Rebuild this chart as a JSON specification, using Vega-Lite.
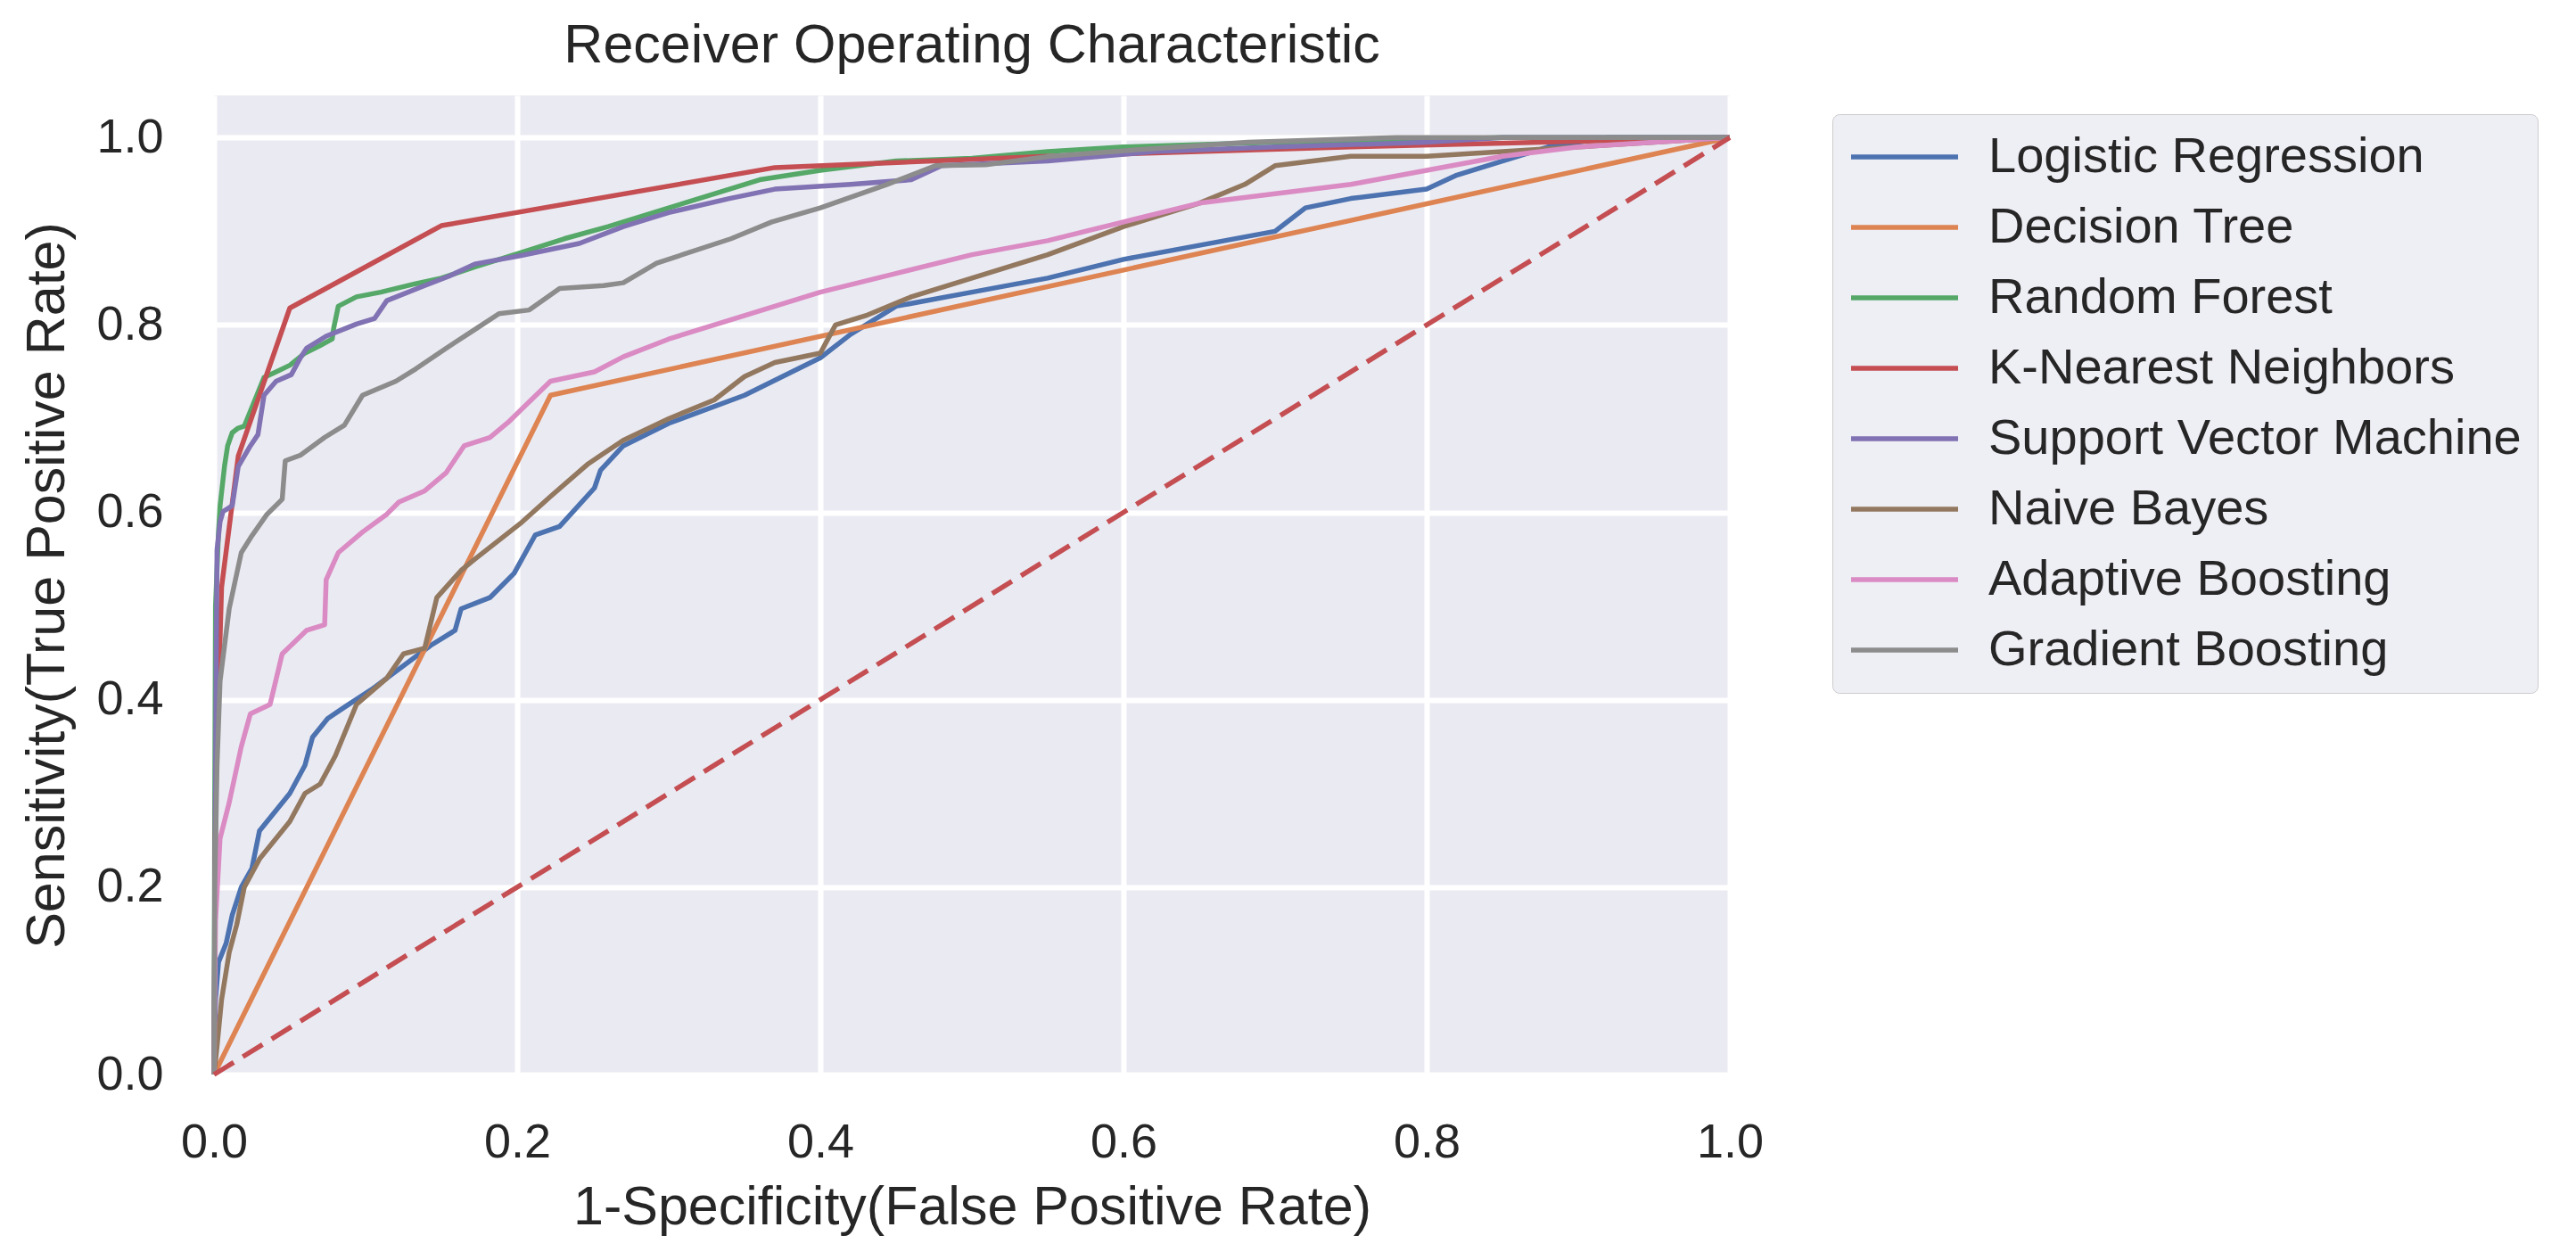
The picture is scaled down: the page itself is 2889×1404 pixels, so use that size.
{
  "$schema": "https://vega.github.io/schema/vega-lite/v6.json",
  "autosize": {"type": "none"},
  "padding": {"left": 240, "top": 107, "right": 949, "bottom": 199},
  "width": 1700,
  "height": 1098,
  "background": "white",
  "title": {"text": "Receiver Operating Characteristic", "fontSize": 61, "font": "Liberation Sans", "fontWeight": "normal", "color": "#262626", "offset": 24},
  "config": {
    "view": {"fill": "#EAEAF2", "stroke": null},
    "axis": {"domain": false, "ticks": false, "gridColor": "#FFFFFF", "gridWidth": 6, "gridOpacity": 1, "labelFont": "Liberation Sans", "labelFontSize": 54, "labelColor": "#262626", "titleFont": "Liberation Sans", "titleFontSize": 61, "titleFontWeight": "normal", "titleColor": "#262626", "labelFlush": false, "labelOverlap": false}
  },
  "encoding": {
    "x": {"field": "x", "type": "quantitative", "scale": {"domain": [0, 1], "nice": false, "zero": false}, "axis": {"values": [0, 0.2, 0.4, 0.6, 0.8, 1.0], "format": ".1f", "title": "1-Specificity(False Positive Rate)", "labelPadding": 49, "titlePadding": 16}},
    "y": {"field": "y", "type": "quantitative", "scale": {"domain": [0, 1.045], "nice": false, "zero": false}, "axis": {"values": [0, 0.2, 0.4, 0.6, 0.8, 1.0], "format": ".1f", "title": "Sensitivity(True Positive Rate)", "labelPadding": 57, "titlePadding": 23}}
  },
  "layer": [
    {
      "data": {"values": [
        {"m": "Logistic Regression", "x": 0, "y": 0}, {"m": "Logistic Regression", "x": 0.001, "y": 0.08}, {"m": "Logistic Regression", "x": 0.003, "y": 0.12}, {"m": "Logistic Regression", "x": 0.008, "y": 0.14}, {"m": "Logistic Regression", "x": 0.012, "y": 0.17}, {"m": "Logistic Regression", "x": 0.018, "y": 0.2}, {"m": "Logistic Regression", "x": 0.025, "y": 0.22}, {"m": "Logistic Regression", "x": 0.03, "y": 0.26}, {"m": "Logistic Regression", "x": 0.04, "y": 0.28}, {"m": "Logistic Regression", "x": 0.05, "y": 0.3}, {"m": "Logistic Regression", "x": 0.06, "y": 0.33}, {"m": "Logistic Regression", "x": 0.065, "y": 0.36}, {"m": "Logistic Regression", "x": 0.075, "y": 0.38}, {"m": "Logistic Regression", "x": 0.086, "y": 0.392}, {"m": "Logistic Regression", "x": 0.104, "y": 0.411}, {"m": "Logistic Regression", "x": 0.143, "y": 0.458}, {"m": "Logistic Regression", "x": 0.159, "y": 0.474}, {"m": "Logistic Regression", "x": 0.163, "y": 0.497}, {"m": "Logistic Regression", "x": 0.182, "y": 0.509}, {"m": "Logistic Regression", "x": 0.198, "y": 0.535}, {"m": "Logistic Regression", "x": 0.212, "y": 0.576}, {"m": "Logistic Regression", "x": 0.228, "y": 0.585}, {"m": "Logistic Regression", "x": 0.251, "y": 0.626}, {"m": "Logistic Regression", "x": 0.255, "y": 0.645}, {"m": "Logistic Regression", "x": 0.27, "y": 0.671}, {"m": "Logistic Regression", "x": 0.3, "y": 0.695}, {"m": "Logistic Regression", "x": 0.35, "y": 0.725}, {"m": "Logistic Regression", "x": 0.4, "y": 0.765}, {"m": "Logistic Regression", "x": 0.42, "y": 0.79}, {"m": "Logistic Regression", "x": 0.45, "y": 0.82}, {"m": "Logistic Regression", "x": 0.5, "y": 0.835}, {"m": "Logistic Regression", "x": 0.55, "y": 0.85}, {"m": "Logistic Regression", "x": 0.6, "y": 0.87}, {"m": "Logistic Regression", "x": 0.65, "y": 0.885}, {"m": "Logistic Regression", "x": 0.7, "y": 0.9}, {"m": "Logistic Regression", "x": 0.72, "y": 0.925}, {"m": "Logistic Regression", "x": 0.75, "y": 0.935}, {"m": "Logistic Regression", "x": 0.8, "y": 0.945}, {"m": "Logistic Regression", "x": 0.82, "y": 0.96}, {"m": "Logistic Regression", "x": 0.85, "y": 0.975}, {"m": "Logistic Regression", "x": 0.88, "y": 0.99}, {"m": "Logistic Regression", "x": 0.92, "y": 1}, {"m": "Logistic Regression", "x": 1, "y": 1},
        {"m": "Decision Tree", "x": 0, "y": 0}, {"m": "Decision Tree", "x": 0.222, "y": 0.725}, {"m": "Decision Tree", "x": 1, "y": 1},
        {"m": "Random Forest", "x": 0, "y": 0}, {"m": "Random Forest", "x": 0.0005, "y": 0.3}, {"m": "Random Forest", "x": 0.001, "y": 0.5}, {"m": "Random Forest", "x": 0.003, "y": 0.58}, {"m": "Random Forest", "x": 0.004, "y": 0.607}, {"m": "Random Forest", "x": 0.007, "y": 0.65}, {"m": "Random Forest", "x": 0.009, "y": 0.671}, {"m": "Random Forest", "x": 0.012, "y": 0.685}, {"m": "Random Forest", "x": 0.016, "y": 0.69}, {"m": "Random Forest", "x": 0.02, "y": 0.692}, {"m": "Random Forest", "x": 0.027, "y": 0.72}, {"m": "Random Forest", "x": 0.033, "y": 0.744}, {"m": "Random Forest", "x": 0.041, "y": 0.75}, {"m": "Random Forest", "x": 0.05, "y": 0.757}, {"m": "Random Forest", "x": 0.06, "y": 0.77}, {"m": "Random Forest", "x": 0.07, "y": 0.778}, {"m": "Random Forest", "x": 0.078, "y": 0.785}, {"m": "Random Forest", "x": 0.079, "y": 0.797}, {"m": "Random Forest", "x": 0.082, "y": 0.82}, {"m": "Random Forest", "x": 0.094, "y": 0.83}, {"m": "Random Forest", "x": 0.11, "y": 0.835}, {"m": "Random Forest", "x": 0.133, "y": 0.844}, {"m": "Random Forest", "x": 0.15, "y": 0.85}, {"m": "Random Forest", "x": 0.172, "y": 0.862}, {"m": "Random Forest", "x": 0.2, "y": 0.876}, {"m": "Random Forest", "x": 0.231, "y": 0.892}, {"m": "Random Forest", "x": 0.26, "y": 0.905}, {"m": "Random Forest", "x": 0.3, "y": 0.925}, {"m": "Random Forest", "x": 0.33, "y": 0.94}, {"m": "Random Forest", "x": 0.36, "y": 0.955}, {"m": "Random Forest", "x": 0.4, "y": 0.965}, {"m": "Random Forest", "x": 0.45, "y": 0.975}, {"m": "Random Forest", "x": 0.5, "y": 0.978}, {"m": "Random Forest", "x": 0.55, "y": 0.985}, {"m": "Random Forest", "x": 0.6, "y": 0.99}, {"m": "Random Forest", "x": 0.7, "y": 0.995}, {"m": "Random Forest", "x": 0.8, "y": 0.998}, {"m": "Random Forest", "x": 0.85, "y": 1}, {"m": "Random Forest", "x": 1, "y": 1},
        {"m": "K-Nearest Neighbors", "x": 0, "y": 0}, {"m": "K-Nearest Neighbors", "x": 0.001, "y": 0.3}, {"m": "K-Nearest Neighbors", "x": 0.005, "y": 0.52}, {"m": "K-Nearest Neighbors", "x": 0.016, "y": 0.66}, {"m": "K-Nearest Neighbors", "x": 0.05, "y": 0.818}, {"m": "K-Nearest Neighbors", "x": 0.15, "y": 0.906}, {"m": "K-Nearest Neighbors", "x": 0.37, "y": 0.968}, {"m": "K-Nearest Neighbors", "x": 0.55, "y": 0.98}, {"m": "K-Nearest Neighbors", "x": 0.75, "y": 0.99}, {"m": "K-Nearest Neighbors", "x": 1, "y": 1},
        {"m": "Support Vector Machine", "x": 0, "y": 0}, {"m": "Support Vector Machine", "x": 0.0005, "y": 0.15}, {"m": "Support Vector Machine", "x": 0.001, "y": 0.3}, {"m": "Support Vector Machine", "x": 0.0015, "y": 0.45}, {"m": "Support Vector Machine", "x": 0.002, "y": 0.56}, {"m": "Support Vector Machine", "x": 0.004, "y": 0.59}, {"m": "Support Vector Machine", "x": 0.006, "y": 0.601}, {"m": "Support Vector Machine", "x": 0.012, "y": 0.607}, {"m": "Support Vector Machine", "x": 0.016, "y": 0.649}, {"m": "Support Vector Machine", "x": 0.024, "y": 0.671}, {"m": "Support Vector Machine", "x": 0.029, "y": 0.683}, {"m": "Support Vector Machine", "x": 0.033, "y": 0.725}, {"m": "Support Vector Machine", "x": 0.041, "y": 0.74}, {"m": "Support Vector Machine", "x": 0.051, "y": 0.747}, {"m": "Support Vector Machine", "x": 0.057, "y": 0.765}, {"m": "Support Vector Machine", "x": 0.061, "y": 0.775}, {"m": "Support Vector Machine", "x": 0.074, "y": 0.788}, {"m": "Support Vector Machine", "x": 0.094, "y": 0.801}, {"m": "Support Vector Machine", "x": 0.106, "y": 0.807}, {"m": "Support Vector Machine", "x": 0.114, "y": 0.826}, {"m": "Support Vector Machine", "x": 0.139, "y": 0.842}, {"m": "Support Vector Machine", "x": 0.155, "y": 0.852}, {"m": "Support Vector Machine", "x": 0.172, "y": 0.865}, {"m": "Support Vector Machine", "x": 0.202, "y": 0.874}, {"m": "Support Vector Machine", "x": 0.241, "y": 0.887}, {"m": "Support Vector Machine", "x": 0.27, "y": 0.905}, {"m": "Support Vector Machine", "x": 0.3, "y": 0.92}, {"m": "Support Vector Machine", "x": 0.34, "y": 0.935}, {"m": "Support Vector Machine", "x": 0.37, "y": 0.945}, {"m": "Support Vector Machine", "x": 0.42, "y": 0.95}, {"m": "Support Vector Machine", "x": 0.46, "y": 0.955}, {"m": "Support Vector Machine", "x": 0.48, "y": 0.97}, {"m": "Support Vector Machine", "x": 0.55, "y": 0.975}, {"m": "Support Vector Machine", "x": 0.62, "y": 0.985}, {"m": "Support Vector Machine", "x": 0.7, "y": 0.99}, {"m": "Support Vector Machine", "x": 0.8, "y": 0.995}, {"m": "Support Vector Machine", "x": 0.85, "y": 1}, {"m": "Support Vector Machine", "x": 1, "y": 1},
        {"m": "Naive Bayes", "x": 0, "y": 0}, {"m": "Naive Bayes", "x": 0.002, "y": 0.03}, {"m": "Naive Bayes", "x": 0.005, "y": 0.08}, {"m": "Naive Bayes", "x": 0.01, "y": 0.13}, {"m": "Naive Bayes", "x": 0.015, "y": 0.16}, {"m": "Naive Bayes", "x": 0.02, "y": 0.2}, {"m": "Naive Bayes", "x": 0.03, "y": 0.23}, {"m": "Naive Bayes", "x": 0.04, "y": 0.25}, {"m": "Naive Bayes", "x": 0.05, "y": 0.27}, {"m": "Naive Bayes", "x": 0.06, "y": 0.3}, {"m": "Naive Bayes", "x": 0.07, "y": 0.31}, {"m": "Naive Bayes", "x": 0.08, "y": 0.34}, {"m": "Naive Bayes", "x": 0.094, "y": 0.395}, {"m": "Naive Bayes", "x": 0.114, "y": 0.423}, {"m": "Naive Bayes", "x": 0.125, "y": 0.449}, {"m": "Naive Bayes", "x": 0.139, "y": 0.455}, {"m": "Naive Bayes", "x": 0.147, "y": 0.509}, {"m": "Naive Bayes", "x": 0.163, "y": 0.538}, {"m": "Naive Bayes", "x": 0.172, "y": 0.55}, {"m": "Naive Bayes", "x": 0.202, "y": 0.588}, {"m": "Naive Bayes", "x": 0.222, "y": 0.617}, {"m": "Naive Bayes", "x": 0.247, "y": 0.652}, {"m": "Naive Bayes", "x": 0.27, "y": 0.677}, {"m": "Naive Bayes", "x": 0.3, "y": 0.7}, {"m": "Naive Bayes", "x": 0.33, "y": 0.72}, {"m": "Naive Bayes", "x": 0.35, "y": 0.745}, {"m": "Naive Bayes", "x": 0.37, "y": 0.76}, {"m": "Naive Bayes", "x": 0.4, "y": 0.77}, {"m": "Naive Bayes", "x": 0.41, "y": 0.8}, {"m": "Naive Bayes", "x": 0.43, "y": 0.81}, {"m": "Naive Bayes", "x": 0.46, "y": 0.83}, {"m": "Naive Bayes", "x": 0.5, "y": 0.85}, {"m": "Naive Bayes", "x": 0.55, "y": 0.875}, {"m": "Naive Bayes", "x": 0.6, "y": 0.905}, {"m": "Naive Bayes", "x": 0.65, "y": 0.93}, {"m": "Naive Bayes", "x": 0.68, "y": 0.95}, {"m": "Naive Bayes", "x": 0.7, "y": 0.97}, {"m": "Naive Bayes", "x": 0.75, "y": 0.98}, {"m": "Naive Bayes", "x": 0.8, "y": 0.98}, {"m": "Naive Bayes", "x": 0.85, "y": 0.985}, {"m": "Naive Bayes", "x": 0.9, "y": 0.99}, {"m": "Naive Bayes", "x": 0.95, "y": 0.995}, {"m": "Naive Bayes", "x": 1, "y": 1},
        {"m": "Adaptive Boosting", "x": 0, "y": 0}, {"m": "Adaptive Boosting", "x": 0.001, "y": 0.164}, {"m": "Adaptive Boosting", "x": 0.004, "y": 0.252}, {"m": "Adaptive Boosting", "x": 0.01, "y": 0.29}, {"m": "Adaptive Boosting", "x": 0.018, "y": 0.35}, {"m": "Adaptive Boosting", "x": 0.024, "y": 0.385}, {"m": "Adaptive Boosting", "x": 0.037, "y": 0.395}, {"m": "Adaptive Boosting", "x": 0.045, "y": 0.449}, {"m": "Adaptive Boosting", "x": 0.061, "y": 0.474}, {"m": "Adaptive Boosting", "x": 0.073, "y": 0.48}, {"m": "Adaptive Boosting", "x": 0.074, "y": 0.528}, {"m": "Adaptive Boosting", "x": 0.082, "y": 0.557}, {"m": "Adaptive Boosting", "x": 0.098, "y": 0.579}, {"m": "Adaptive Boosting", "x": 0.114, "y": 0.598}, {"m": "Adaptive Boosting", "x": 0.122, "y": 0.611}, {"m": "Adaptive Boosting", "x": 0.139, "y": 0.623}, {"m": "Adaptive Boosting", "x": 0.153, "y": 0.642}, {"m": "Adaptive Boosting", "x": 0.165, "y": 0.671}, {"m": "Adaptive Boosting", "x": 0.182, "y": 0.68}, {"m": "Adaptive Boosting", "x": 0.194, "y": 0.696}, {"m": "Adaptive Boosting", "x": 0.208, "y": 0.718}, {"m": "Adaptive Boosting", "x": 0.222, "y": 0.74}, {"m": "Adaptive Boosting", "x": 0.251, "y": 0.75}, {"m": "Adaptive Boosting", "x": 0.27, "y": 0.766}, {"m": "Adaptive Boosting", "x": 0.3, "y": 0.785}, {"m": "Adaptive Boosting", "x": 0.35, "y": 0.81}, {"m": "Adaptive Boosting", "x": 0.4, "y": 0.835}, {"m": "Adaptive Boosting", "x": 0.45, "y": 0.855}, {"m": "Adaptive Boosting", "x": 0.5, "y": 0.875}, {"m": "Adaptive Boosting", "x": 0.55, "y": 0.89}, {"m": "Adaptive Boosting", "x": 0.6, "y": 0.91}, {"m": "Adaptive Boosting", "x": 0.65, "y": 0.93}, {"m": "Adaptive Boosting", "x": 0.7, "y": 0.94}, {"m": "Adaptive Boosting", "x": 0.75, "y": 0.95}, {"m": "Adaptive Boosting", "x": 0.8, "y": 0.965}, {"m": "Adaptive Boosting", "x": 0.85, "y": 0.98}, {"m": "Adaptive Boosting", "x": 0.9, "y": 0.99}, {"m": "Adaptive Boosting", "x": 1, "y": 1},
        {"m": "Gradient Boosting", "x": 0, "y": 0}, {"m": "Gradient Boosting", "x": 0.0005, "y": 0.2}, {"m": "Gradient Boosting", "x": 0.002, "y": 0.33}, {"m": "Gradient Boosting", "x": 0.004, "y": 0.42}, {"m": "Gradient Boosting", "x": 0.01, "y": 0.497}, {"m": "Gradient Boosting", "x": 0.018, "y": 0.557}, {"m": "Gradient Boosting", "x": 0.025, "y": 0.575}, {"m": "Gradient Boosting", "x": 0.035, "y": 0.598}, {"m": "Gradient Boosting", "x": 0.045, "y": 0.614}, {"m": "Gradient Boosting", "x": 0.047, "y": 0.655}, {"m": "Gradient Boosting", "x": 0.057, "y": 0.661}, {"m": "Gradient Boosting", "x": 0.073, "y": 0.68}, {"m": "Gradient Boosting", "x": 0.086, "y": 0.693}, {"m": "Gradient Boosting", "x": 0.098, "y": 0.725}, {"m": "Gradient Boosting", "x": 0.12, "y": 0.74}, {"m": "Gradient Boosting", "x": 0.133, "y": 0.753}, {"m": "Gradient Boosting", "x": 0.153, "y": 0.775}, {"m": "Gradient Boosting", "x": 0.172, "y": 0.795}, {"m": "Gradient Boosting", "x": 0.188, "y": 0.812}, {"m": "Gradient Boosting", "x": 0.208, "y": 0.816}, {"m": "Gradient Boosting", "x": 0.228, "y": 0.839}, {"m": "Gradient Boosting", "x": 0.257, "y": 0.842}, {"m": "Gradient Boosting", "x": 0.27, "y": 0.845}, {"m": "Gradient Boosting", "x": 0.292, "y": 0.866}, {"m": "Gradient Boosting", "x": 0.341, "y": 0.892}, {"m": "Gradient Boosting", "x": 0.368, "y": 0.91}, {"m": "Gradient Boosting", "x": 0.4, "y": 0.925}, {"m": "Gradient Boosting", "x": 0.444, "y": 0.95}, {"m": "Gradient Boosting", "x": 0.476, "y": 0.97}, {"m": "Gradient Boosting", "x": 0.509, "y": 0.971}, {"m": "Gradient Boosting", "x": 0.552, "y": 0.98}, {"m": "Gradient Boosting", "x": 0.617, "y": 0.988}, {"m": "Gradient Boosting", "x": 0.682, "y": 0.995}, {"m": "Gradient Boosting", "x": 0.78, "y": 1}, {"m": "Gradient Boosting", "x": 1, "y": 1}
      ]},
      "mark": {"type": "line", "strokeWidth": 5.5, "strokeJoin": "round", "strokeCap": "butt"},
      "encoding": {
        "color": {"field": "m", "type": "nominal", "sort": null,
          "scale": {"domain": ["Logistic Regression", "Decision Tree", "Random Forest", "K-Nearest Neighbors", "Support Vector Machine", "Naive Bayes", "Adaptive Boosting", "Gradient Boosting"],
                    "range": ["#4C72B0", "#DD8452", "#55A868", "#C44E52", "#8172B3", "#937860", "#DA8BC3", "#8C8C8C"]},
          "legend": {"orient": "none", "legendX": 1815, "legendY": 21, "title": null, "symbolType": "stroke", "symbolSize": 14400, "symbolStrokeWidth": 5.5, "labelFont": "Liberation Sans", "labelFontSize": 56, "labelColor": "#262626", "labelOffset": 31, "labelLimit": 0, "padding": 18, "fillColor": "#EEEEF5", "strokeColor": "#CCCCCC", "cornerRadius": 8, "clipHeight": 60, "rowPadding": 19}},
        "order": {"value": null}
      }
    },
    {
      "data": {"values": [{"x": 0, "y": 0}, {"x": 1, "y": 1}]},
      "mark": {"type": "line", "color": "#C44E52", "strokeWidth": 5.5, "strokeDash": [26, 12]},
      "encoding": {}
    }
  ]
}
